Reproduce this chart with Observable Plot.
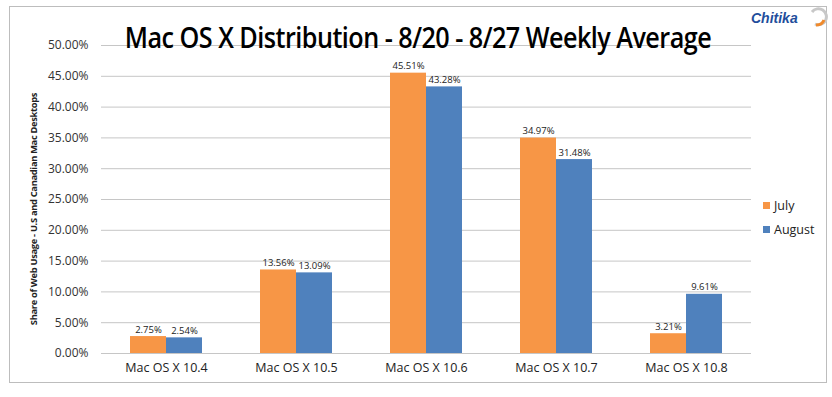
<!DOCTYPE html>
<html><head><meta charset="utf-8">
<script src="https://cdn.jsdelivr.net/npm/d3@7"></script>
<script src="https://cdn.jsdelivr.net/npm/@observablehq/plot@0.6"></script>
<style>
body{margin:0;background:#fff;}
#wrap{position:relative;width:832px;height:397px;overflow:hidden;font-family:"Open Sans",sans-serif;}
#frame{position:absolute;left:9px;top:6px;width:818px;height:377px;border:1px solid #bdbdbd;box-sizing:border-box;}
#title{position:absolute;left:0;width:836px;top:17px;text-align:center;font-family:"Open Sans",sans-serif;font-size:29px;font-weight:600;letter-spacing:-0.6px;color:#000;transform:scaleX(0.868);transform-origin:418px 50%;}
#logo{position:absolute;left:751px;top:10px;font-family:"Liberation Sans",sans-serif;font-weight:bold;font-style:italic;font-size:14px;color:#1f4e9c;}
#legend{position:absolute;left:763px;top:193px;font-family:"Open Sans",sans-serif;font-size:12.5px;color:#222;}
#legend div{height:24px;display:flex;align-items:center;}
#legend span.sw{display:inline-block;width:7px;height:7px;margin-right:4px;}
#ylab{position:absolute;left:33px;top:209px;transform:translate(-50%,-50%) rotate(-90deg);white-space:nowrap;font-family:"Open Sans",sans-serif;font-weight:bold;font-size:9.3px;color:#222;letter-spacing:-0.3px;}
#chart svg{position:absolute;left:0;top:0;}
</style></head>
<body>
<div id="wrap">
<div id="frame"></div>
<div id="chart"></div>
<div id="title">Mac OS X Distribution - 8/20 - 8/27 Weekly Average</div>
<div id="logo">Chitika<svg width="22" height="20" style="position:absolute;left:56px;top:-3px"><path d="M5,5 A8,8 0 1 1 8,17" fill="none" stroke="#c8c8c8" stroke-width="3"/><path d="M17,13 A8,8 0 0 1 9,18" fill="none" stroke="#f08a2c" stroke-width="3"/></svg></div>
<div id="ylab">Share of Web Usage - U.S and Canadian Mac Desktops</div>
<div id="legend"></div>
</div>
<script>
const categories = ["Mac OS X 10.4","Mac OS X 10.5","Mac OS X 10.6","Mac OS X 10.7","Mac OS X 10.8"];
const seriesNames = ["July","August"];
const july = [2.75,13.56,45.51,34.97,3.21];
const august = [2.54,13.09,43.28,31.48,9.61];
const yTicks = [0,5,10,15,20,25,30,35,40,45,50];
const colors = ["#F79646","#4F81BD"];

const data = [];
categories.forEach((c,i)=>{
  data.push({cat:c, series:"July", value:july[i]});
  data.push({cat:c, series:"August", value:august[i]});
});

const chart = Plot.plot({
  width:832, height:397,
  marginLeft:100, marginRight:80, marginTop:45, marginBottom:44,
  style:{fontFamily:"'Open Sans',sans-serif", background:"transparent"},
  fx:{domain:categories, padding:0, label:null},
  x:{domain:seriesNames, axis:null, paddingInner:0, paddingOuter:0.757},
  y:{domain:[0,50], ticks:yTicks, label:null},
  color:{domain:seriesNames, range:colors},
  marks:[
    Plot.ruleY(yTicks,{stroke:"#c6c6c6", strokeWidth:1}),
    Plot.axisY({ticks:yTicks, tickSize:0, tickPadding:13, tickFormat:d=>d.toFixed(2)+"%", fontSize:12, fill:"#333", label:null}),
    Plot.barY(data,{fx:"cat", x:"series", y:"value", fill:"series"}),
    Plot.text(data,{fx:"cat", x:"series", y:"value", text:d=>d.value.toFixed(2)+"%", dy:-7, fontSize:9.5, fill:"#222"}),
    Plot.axisFx({domain:categories, anchor:"bottom", tickSize:0, tickPadding:10, fontSize:12.5, fill:"#222", label:null})
  ]
});
document.getElementById("chart").appendChild(chart);

const leg = document.getElementById("legend");
seriesNames.forEach((s,i)=>{
  const d = document.createElement("div");
  d.innerHTML = `<span class="sw" style="background:${colors[i]}"></span>${s}`;
  leg.appendChild(d);
});
</script>
</body></html>
